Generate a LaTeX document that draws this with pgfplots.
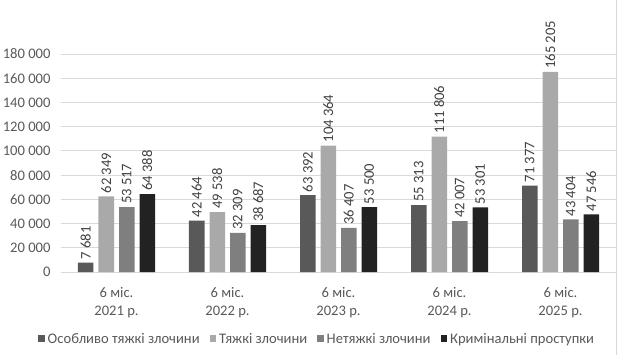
\documentclass[border=0pt]{standalone}
\usepackage{fontspec}
\setmainfont{Carlito}
\usepackage{pgfplots}
\pgfplotsset{compat=1.18}
\definecolor{cA}{HTML}{595959}
\definecolor{cB}{HTML}{A9A9A9}
\definecolor{cC}{HTML}{7F7F7F}
\definecolor{cD}{HTML}{222222}
\definecolor{tickgray}{HTML}{595959}
\definecolor{labgray}{HTML}{404040}
\definecolor{gridgray}{HTML}{D9D9D9}
\newcommand{\cf}{\fontsize{14.6bp}{17.5bp}\selectfont}
\begin{document}
\begin{tikzpicture}
\useasboundingbox (0,0) rectangle (618bp,355bp);
\begin{axis}[
  at={(61bp,83bp)}, anchor=south west,
  scale only axis, width=555bp, height=218bp,
  ymin=0, ymax=180000, ytick={0,20000,40000,60000,80000,100000,120000,140000,160000,180000},
  yticklabels={0,20 000,40 000,60 000,80 000,100 000,120 000,140 000,160 000,180 000},
  xmin=-0.5, xmax=4.5, xtick={0,1,2,3,4},
  xticklabels={{6 міс.\\2021 р.},{6 міс.\\2022 р.},{6 міс.\\2023 р.},{6 міс.\\2024 р.},{6 міс.\\2025 р.}},
  xticklabel style={align=center, font=\cf, text=tickgray, yshift=-12bp},
  yticklabel style={font=\cf, text=tickgray, xshift=-7bp},
  scaled y ticks=false,
  ymajorgrids, grid style={draw=gridgray, line width=0.8bp},
  axis lines*=left,
  y axis line style={draw=none},
  x axis line style={draw=gridgray, line width=0.8bp},
  major tick length=0pt,
  ybar=5bp, bar width=15.5bp,
  clip=false,
  point meta=explicit symbolic,
  nodes near coords,
  every node near coord/.append style={rotate=90, anchor=west, font=\cf, text=labgray, inner sep=3bp},
  legend columns=-1,
  legend style={draw=none, fill=none, font=\cf, text=tickgray, inner sep=0pt,
    at={(axis description cs:-0.0414,-0.307)}, anchor=west,
    nodes={inner xsep=2bp},
    /tikz/every even column/.append style={column sep=8bp},
    /tikz/every odd column/.append style={column sep=1bp}},
  legend image code/.code={\fill[#1] (0bp,-3.5bp) rectangle (6.5bp,3.5bp);},
]
\addplot[fill=cA, draw=none] coordinates {(0,7681) [7 681] (1,42464) [42 464] (2,63392) [63 392] (3,55313) [55 313] (4,71377) [71 377]};
\addplot[fill=cB, draw=none] coordinates {(0,62349) [62 349] (1,49538) [49 538] (2,104364) [104 364] (3,111806) [111 806] (4,165205) [165 205]};
\addplot[fill=cC, draw=none] coordinates {(0,53517) [53 517] (1,32309) [32 309] (2,36407) [36 407] (3,42007) [42 007] (4,43404) [43 404]};
\addplot[fill=cD, draw=none] coordinates {(0,64388) [64 388] (1,38687) [38 687] (2,53500) [53 500] (3,53301) [53 301] (4,47546) [47 546]};
\legend{Особливо тяжкі злочини, Тяжкі злочини, Нетяжкі злочини, Кримінальні проступки}
\end{axis}
\draw[gridgray, line width=0.8bp] (616.5bp,0) -- (616.5bp,355bp);
\end{tikzpicture}
\end{document}
